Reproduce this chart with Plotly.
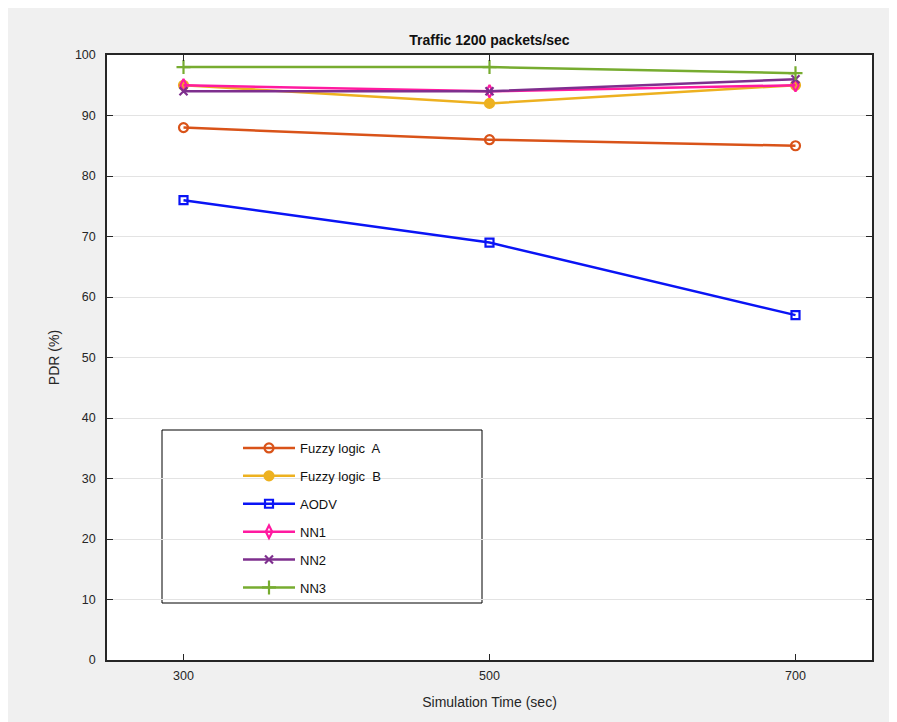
import plotly.graph_objects as go

sim_time = [300, 500, 700]
fuzzy_a = [88, 86, 85]
fuzzy_b = [95, 92, 95]
aodv = [76, 69, 57]
nn1 = [95, 94, 95]
nn2 = [94, 94, 96]
nn3 = [98, 98, 97]

series_names = ["Fuzzy logic  A", "Fuzzy logic  B", "AODV", "NN1", "NN2", "NN3"]
series_values = [fuzzy_a, fuzzy_b, aodv, nn1, nn2, nn3]
colors = ["#D95319", "#EDB120", "#0A14F5", "#FF1AA0", "#7E2F8E", "#77AC30"]
symbols = ["circle-open", "circle", "square-open", "diamond-tall-open", "x-thin-open", "cross-thin-open"]
msizes = [9, 9, 8, 9, 8, 10]

xticks = [300, 500, 700]
yticks = list(range(0, 101, 10))

OFF = 8  # page body margin
W, H = 889, 714
L, R, T, B = 99, 25, 47, 62
pw, ph = W - L - R, H - T - B

def px(x):
    return (x - OFF - L) / pw

def py(y):
    return (H - B - (y - OFF)) / ph

FONT = "Liberation Sans, Arial, sans-serif"
axis_font = dict(family=FONT, size=12.5, color="#262626")

fig = go.Figure()
for i, (name, vals) in enumerate(zip(series_names, series_values)):
    fig.add_trace(go.Scatter(
        x=sim_time, y=vals, name=name, mode="lines+markers",
        line=dict(color=colors[i], width=2.5),
        marker=dict(symbol=symbols[i], size=msizes[i], color=colors[i],
                    line=dict(color=colors[i], width=2.2)),
        legendgroup=name,
    ))

fig.update_layout(
    width=W, height=H,
    margin=dict(l=L, r=R, t=T, b=B),
    paper_bgcolor="#F0F0F0",
    plot_bgcolor="white",
    font=axis_font,
    title=dict(text="<b>Traffic 1200 packets/sec</b>", x=px(489.5), xref="paper",
               xanchor="center", y=1 - (40 - OFF) / H, yanchor="middle",
               font=dict(family=FONT, size=14, color="#111111")),
    xaxis=dict(range=[250, 750], tickvals=xticks, ticktext=[str(t) for t in xticks],
               ticks="inside", ticklen=6, tickcolor="#262626", showgrid=False,
               showline=True, linecolor="#262626", linewidth=1.5, mirror="ticks",
               zeroline=False, ticklabelstandoff=3,
               title=dict(text="Simulation Time (sec)", font=dict(family=FONT, size=14), standoff=15),
               tickfont=axis_font),
    yaxis=dict(range=[0, 100], tickvals=yticks, ticks="inside", ticklen=6, tickcolor="#262626",
               showgrid=True, gridcolor="#E3E3E3", gridwidth=1,
               showline=True, linecolor="#262626", linewidth=1.5, mirror="ticks",
               zeroline=False, ticklabelstandoff=7,
               title=dict(text="PDR (%)", font=dict(family=FONT, size=14), standoff=12),
               tickfont=axis_font),
    showlegend=True,
    legend=dict(x=px(238), y=py(433), xanchor="left", yanchor="top",
                bgcolor="rgba(0,0,0,0)", borderwidth=0, tracegroupgap=8,
                itemwidth=52, font=dict(family=FONT, size=13, color="#111111")),
    shapes=[
        dict(type="rect", xref="paper", yref="paper", x0=px(162), x1=px(482), y0=py(603), y1=py(430),
             line=dict(color="black", width=1), fillcolor="white", layer="below"),
    ],
)

fig.write_html("out.html")
